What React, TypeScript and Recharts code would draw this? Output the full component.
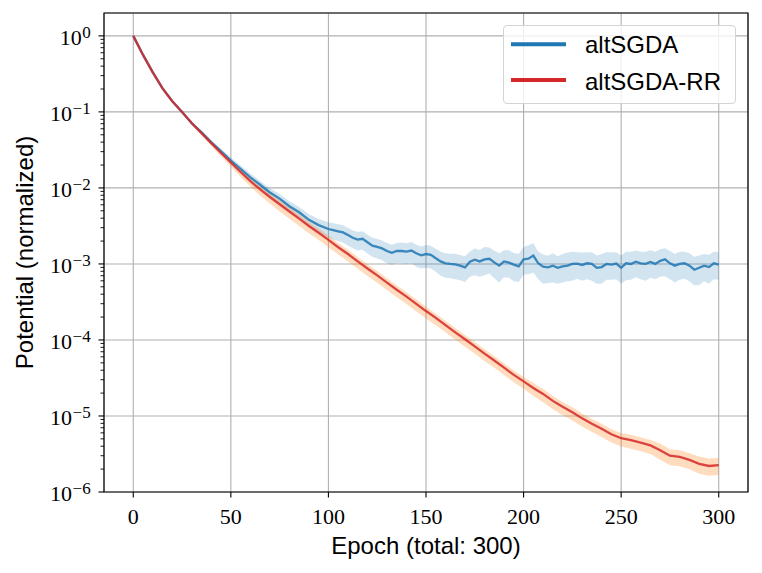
import React from 'react';
import {
  ComposedChart,
  Line,
  Area,
  XAxis,
  YAxis,
  CartesianGrid,
  ReferenceLine,
  ReferenceArea,
  Legend,
} from 'recharts';

// altSGDA (blue) sampled epochs
const blueEpochs = [
  0, 5, 10, 15, 20, 25, 30, 35, 40, 45, 50, 55, 60, 65, 70, 75, 80, 85, 90, 95,
  100, 102.5, 105, 107.5, 110, 112.5, 115, 117.5, 120, 122.5,
  125, 127.5, 130, 132.5, 135, 137.5, 140, 142.5, 145, 147.5,
  150, 152.5, 155, 157.5, 160, 162.5, 165, 167.5, 170, 172.5,
  175, 177.5, 180, 182.5, 185, 187.5, 190, 192.5, 195, 197.5,
  200, 202.5, 205, 207.5, 210, 212.5, 215, 217.5, 220, 222.5,
  225, 227.5, 230, 232.5, 235, 237.5, 240, 242.5, 245, 247.5,
  250, 252.5, 255, 257.5, 260, 262.5, 265, 267.5, 270, 272.5,
  275, 277.5, 280, 282.5, 285, 287.5, 290, 292.5, 295, 297.5,
  300,
];
const blueMean = [
  1, 0.562, 0.331, 0.204, 0.138, 0.1, 0.0708, 0.0537, 0.0398, 0.0302, 0.0229, 0.0178,
  0.0138, 0.011, 0.0087, 0.00724, 0.00575, 0.00479, 0.0038, 0.00324,
  0.00288, 0.00279, 0.00269, 0.0026, 0.0024, 0.00221, 0.00209, 0.00214, 0.00193, 0.00174,
  0.00168, 0.0016, 0.00148, 0.0014, 0.00148, 0.00148, 0.00145, 0.0015, 0.00138, 0.0013,
  0.00135, 0.00132, 0.00119, 0.00108, 0.00102, 0.001, 0.00099, 0.00095, 0.0009, 0.00107,
  0.00114, 0.00108, 0.00115, 0.00117, 0.00105, 0.00095, 0.00108, 0.00104, 0.00098, 0.00093,
  0.00115, 0.00117, 0.00129, 0.00102, 0.00092, 0.0009, 0.00095, 0.00089, 0.00093, 0.00095,
  0.001, 0.00101, 0.00097, 0.00102, 0.001, 0.00089, 0.00091, 0.001, 0.00098, 0.00101,
  0.00089, 0.00102, 0.001, 0.00107, 0.00102, 0.001, 0.00106, 0.001, 0.0011, 0.00115,
  0.00102, 0.00095, 0.001, 0.00102, 0.00095, 0.00084, 0.00089, 0.00095, 0.00091, 0.00102,
  0.00098,
];
const blueHigh = [
  1.012, 0.569, 0.335, 0.206, 0.14, 0.101, 0.0741, 0.0569, 0.0427, 0.0327, 0.0251, 0.0197,
  0.0155, 0.0123, 0.00987, 0.00831, 0.00668, 0.00563, 0.00452, 0.00389,
  0.00354, 0.00343, 0.00334, 0.00322, 0.003, 0.00276, 0.00263, 0.0027, 0.00243, 0.00221,
  0.00213, 0.00203, 0.00189, 0.00179, 0.00189, 0.00191, 0.00187, 0.00194, 0.00179, 0.00169,
  0.00178, 0.00174, 0.00158, 0.00145, 0.00138, 0.00136, 0.00136, 0.00131, 0.00126, 0.00146,
  0.0016, 0.00153, 0.00167, 0.00164, 0.00149, 0.00138, 0.00151, 0.00151, 0.00139, 0.00135,
  0.00167, 0.00176, 0.00187, 0.00145, 0.00133, 0.00128, 0.00138, 0.00126, 0.00135, 0.00141,
  0.00145, 0.00143, 0.00141, 0.00143, 0.00142, 0.00129, 0.00135, 0.00142, 0.00142, 0.00143,
  0.00129, 0.00145, 0.00145, 0.0015, 0.00145, 0.00145, 0.00151, 0.00145, 0.00156, 0.00161,
  0.00148, 0.00135, 0.00145, 0.00145, 0.00138, 0.00124, 0.00129, 0.00135, 0.00132, 0.00145,
  0.00142,
];
const blueLow = [
  0.989, 0.556, 0.327, 0.202, 0.136, 0.0989, 0.0676, 0.0501, 0.0367, 0.0275, 0.0207, 0.0159,
  0.0122, 0.00958, 0.00749, 0.00616, 0.00484, 0.00399, 0.00312, 0.00263,
  0.00219, 0.00209, 0.00199, 0.00192, 0.00175, 0.00161, 0.0015, 0.00154, 0.00137, 0.00124,
  0.00118, 0.00112, 0.00102, 0.00097, 0.00102, 0.00101, 0.00099, 0.00102, 0.00092, 0.00087,
  0.00089, 0.00087, 0.00079, 0.0007, 0.00066, 0.00065, 0.00063, 0.00061, 0.00058, 0.00068,
  0.00071, 0.00068, 0.00071, 0.00075, 0.00065, 0.00057, 0.00067, 0.00066, 0.00059, 0.00058,
  0.00072, 0.00073, 0.00077, 0.00063, 0.00055, 0.00056, 0.00057, 0.00055, 0.00057, 0.00059,
  0.0006, 0.00064, 0.0006, 0.00063, 0.0006, 0.00055, 0.00055, 0.00062, 0.00062, 0.00063,
  0.00055, 0.00061, 0.00062, 0.00067, 0.00063, 0.0006, 0.00066, 0.00063, 0.00068, 0.00069,
  0.00063, 0.00057, 0.00062, 0.00064, 0.00059, 0.00052, 0.00053, 0.00059, 0.00055, 0.00063,
  0.00062,
];

// altSGDA-RR (red) sampled epochs
const redEpochs = [
  0, 5, 10, 15, 20, 25, 30, 35, 40, 45, 50, 55, 60, 65, 70, 75, 80, 85, 90, 95,
  100, 105, 110, 115, 120, 125, 130, 135, 140, 145, 150, 155, 160, 165, 170, 175,
  180, 185, 190, 195, 200, 205, 210, 215, 220, 225, 230, 235, 240, 245, 250, 255,
  260, 265, 270, 275, 280, 285, 290, 295, 300,
];
const redMean = [
  1, 0.562, 0.331, 0.204, 0.138, 0.1, 0.0708, 0.0525, 0.0389, 0.0288, 0.0216, 0.0162,
  0.0123, 0.00955, 0.00759, 0.0061, 0.0049, 0.00394, 0.00316, 0.00257, 0.00207, 0.00166,
  0.00135, 0.00108, 8.7e-4, 7.08e-4, 5.69e-4, 4.57e-4, 3.72e-4, 2.99e-4, 2.4e-4, 1.95e-4,
  1.57e-4, 1.26e-4, 1.02e-4, 8.22e-5, 6.61e-5, 5.37e-5, 4.32e-5, 3.47e-5, 2.85e-5,
  2.34e-5, 1.95e-5, 1.58e-5, 1.32e-5, 1.12e-5, 9.3e-6, 7.9e-6, 6.8e-6, 5.75e-6, 5.1e-6,
  4.8e-6, 4.45e-6, 4.1e-6, 3.55e-6, 3.0e-6, 2.9e-6, 2.65e-6, 2.35e-6, 2.2e-6, 2.25e-6,
];
const redHigh = [
  1.012, 0.569, 0.335, 0.206, 0.14, 0.101, 0.0725, 0.0541, 0.0405, 0.0302, 0.0229, 0.0173,
  0.0133, 0.0105, 0.0085, 0.00695, 0.00559, 0.00449, 0.0036, 0.00293, 0.00236, 0.00189,
  0.00154, 0.00123, 9.92e-4, 8.07e-4, 6.49e-4, 5.21e-4, 4.24e-4, 3.41e-4, 2.74e-4, 2.22e-4,
  1.79e-4, 1.44e-4, 1.16e-4, 9.37e-5, 7.54e-5, 6.12e-5, 4.92e-5, 3.96e-5, 3.25e-5,
  2.71e-5, 2.26e-5, 1.83e-5, 1.53e-5, 1.3e-5, 1.08e-5, 9.16e-6, 7.89e-6, 6.67e-6, 5.92e-6,
  5.66e-6, 5.25e-6, 4.84e-6, 4.33e-6, 3.66e-6, 3.54e-6, 3.23e-6, 2.94e-6, 2.75e-6, 2.81e-6,
];
const redLow = [
  0.989, 0.556, 0.327, 0.202, 0.136, 0.0989, 0.068, 0.0488, 0.0354, 0.0259, 0.019, 0.0139,
  0.01046, 0.00793, 0.00622, 0.00488, 0.00392, 0.00315, 0.00253, 0.00206, 0.00166, 0.00133,
  0.00108, 8.64e-4, 6.96e-4, 5.66e-4, 4.55e-4, 3.66e-4, 2.98e-4, 2.39e-4, 1.92e-4, 1.56e-4,
  1.26e-4, 1.01e-4, 8.16e-5, 6.58e-5, 5.29e-5, 4.3e-5, 3.46e-5, 2.78e-5, 2.28e-5,
  1.83e-5, 1.52e-5, 1.23e-5, 1.03e-5, 8.74e-6, 7.25e-6, 6.16e-6, 5.3e-6, 4.49e-6, 3.98e-6,
  3.7e-6, 3.43e-6, 3.16e-6, 2.66e-6, 2.25e-6, 2.18e-6, 1.99e-6, 1.74e-6, 1.63e-6, 1.67e-6,
];

const xTicks = [0, 50, 100, 150, 200, 250, 300];
const xTickLabels = ['0', '50', '100', '150', '200', '250', '300'];
const yTicks = [1e-6, 1e-5, 1e-4, 1e-3, 1e-2, 1e-1, 1];
const yTickExponents = ['−6', '−5', '−4', '−3', '−2', '−1', '0'];
const minorMultipliers = [2, 3, 4, 5, 6, 7, 8, 9];
const minorTicks = yTicks.slice(0, 6).flatMap((d) => minorMultipliers.map((m) => m * d));

const seriesNames = ['altSGDA', 'altSGDA-RR'];
const seriesColors = ['#1f77b4', '#d62728'];

const data = blueEpochs.map((e, i) => {
  const j = redEpochs.indexOf(e);
  return {
    epoch: e,
    blue: blueMean[i],
    blueBand: [blueLow[i], blueHigh[i]],
    red: j >= 0 ? redMean[j] : null,
    redBand: j >= 0 ? [redLow[j], redHigh[j]] : null,
  };
});

const SERIF = "'Liberation Serif', 'DejaVu Serif', serif";
const SANS = "'Liberation Sans', Arial, sans-serif";

const XTick = (props: any) => {
  const { x, y, payload } = props;
  const idx = xTicks.indexOf(payload.value);
  return (
    <text x={x} y={y + 26.5} textAnchor="middle" fontFamily={SERIF} fontSize={22} fill="#000">
      {xTickLabels[idx]}
    </text>
  );
};

const YTick = (props: any) => {
  const { x, y, payload } = props;
  const idx = yTicks.findIndex((t) => Math.abs(t - payload.value) / t < 1e-6);
  return (
    <text x={x} y={y + 9.3} textAnchor="end" fontFamily={SERIF} fontSize={22} fill="#000">
      10
      <tspan dy={-7} dx={0.5} fontSize={17}>
        {yTickExponents[idx]}
      </tspan>
    </text>
  );
};

const LegendBox = () => (
  <div
    style={{
      width: 233,
      height: 79,
      boxSizing: 'border-box',
      border: '1px solid #d4d4d4',
      borderRadius: 4,
      background: 'rgba(255,255,255,0.8)',
      position: 'relative',
    }}
  >
    <svg width={233} height={79} style={{ position: 'absolute', left: -1, top: -1 }}>
      {seriesNames.map((n, i) => (
        <g key={n}>
          <line
            x1={8}
            x2={63}
            y1={19.3 + i * 35.7}
            y2={19.3 + i * 35.7}
            stroke={seriesColors[i]}
            strokeWidth={4}
          />
          <text x={82} y={28.3 + i * 36.5} fontFamily={SANS} fontSize={24} fill="#000">
            {n}
          </text>
        </g>
      ))}
    </svg>
  </div>
);

export default function App() {
  return (
    <div style={{ position: 'relative', width: 762, height: 573 }}>
      <style>{`body{margin:0;background:#fff}`}</style>
      <ComposedChart
        width={762}
        height={573}
        data={data}
        margin={{ top: 13, right: 14, bottom: 0, left: 0 }}
      >
        <CartesianGrid stroke="#b0b0b0" strokeWidth={1.1} />
        <XAxis
          dataKey="epoch"
          type="number"
          domain={[-15, 315]}
          ticks={xTicks}
          height={81}
          tickSize={5.5}
          tickMargin={0}
          tick={<XTick />}
          tickLine={{ stroke: '#000', strokeWidth: 1.1 }}
          axisLine={false}
          allowDataOverflow
        />
        <YAxis
          type="number"
          scale="log"
          domain={[1e-6, 2]}
          ticks={yTicks}
          width={104}
          tickSize={5.5}
          tickMargin={7.8}
          tick={<YTick />}
          tickLine={{ stroke: '#000', strokeWidth: 1.1 }}
          axisLine={false}
          allowDataOverflow
        />
        <Area
          dataKey="blueBand"
          type="linear"
          stroke="none"
          fill="#1f77b4"
          fillOpacity={0.2}
          isAnimationActive={false}
          legendType="none"
        />
        <Area
          dataKey="redBand"
          type="linear"
          stroke="none"
          fill="#ff7f0e"
          fillOpacity={0.27}
          connectNulls
          isAnimationActive={false}
          legendType="none"
        />
        <Line
          dataKey="blue"
          type="linear"
          stroke="#1f77b4"
          strokeOpacity={0.85}
          strokeWidth={2.3}
          dot={false}
          isAnimationActive={false}
        />
        <Line
          dataKey="red"
          type="linear"
          stroke="#d62728"
          strokeOpacity={0.85}
          strokeWidth={2.3}
          dot={false}
          connectNulls
          isAnimationActive={false}
        />
        {minorTicks.map((v) => (
          <ReferenceLine
            key={v}
            segment={[
              { x: -15, y: v },
              { x: -16.8, y: v },
            ]}
            stroke="#000"
            strokeWidth={0.9}
            ifOverflow="visible"
          />
        ))}
        <ReferenceArea
          x1={-15}
          x2={315}
          y1={1e-6}
          y2={2}
          fill="none"
          stroke="#000"
          strokeWidth={1.2}
          ifOverflow="visible"
        />
        <Legend
          layout="horizontal"
          verticalAlign="middle"
          align="center"
          content={() => <LegendBox />}
          wrapperStyle={{ position: 'absolute', left: 503, top: 25, width: 233, height: 79 }}
        />
      </ComposedChart>
      <svg
        width={762}
        height={573}
        style={{ position: 'absolute', left: 0, top: 0, pointerEvents: 'none' }}
      >
        <text x={426} y={553.5} textAnchor="middle" fontFamily={SANS} fontSize={24} fill="#000">
          Epoch (total: 300)
        </text>
        <text
          x={0}
          y={0}
          transform="translate(32.5,252.5) rotate(-90)"
          textAnchor="middle"
          fontFamily={SANS}
          fontSize={24}
          fill="#000"
        >
          Potential (normalized)
        </text>
      </svg>
    </div>
  );
}
